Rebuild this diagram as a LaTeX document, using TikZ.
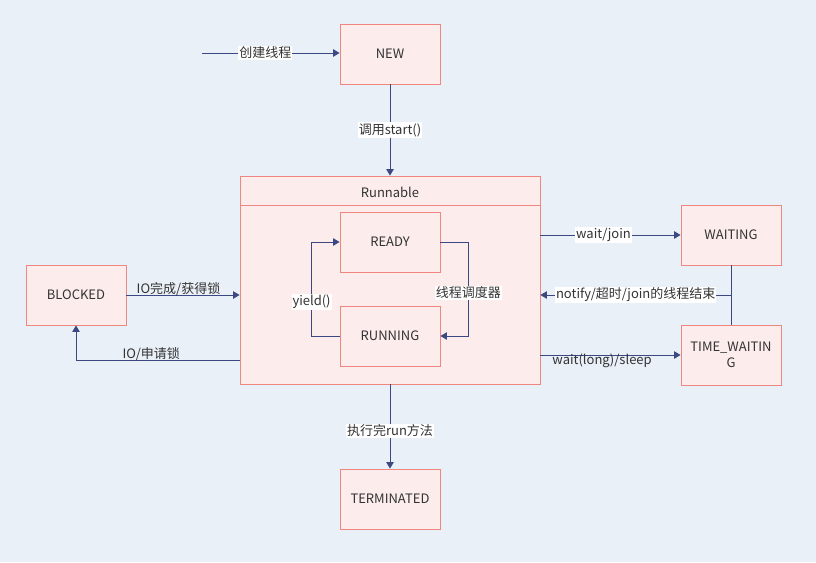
\documentclass[tikz,border=0pt]{standalone}
\usepackage{fontspec}
\setmainfont{Noto Sans CJK SC}
\usetikzlibrary{arrows.meta}
\definecolor{bgblue}{RGB}{234,240,248}
\definecolor{boxfill}{RGB}{252,236,236}
\definecolor{boxline}{RGB}{240,134,128}
\definecolor{linkblue}{RGB}{60,72,130}
\definecolor{txtgray}{RGB}{51,51,51}
\tikzset{
  state/.style={draw=boxline, fill=boxfill, line width=0.9pt, minimum width=100pt, minimum height=60pt, inner sep=0pt, text=txtgray, font=\fontsize{13}{15.5}\selectfont},
  link/.style={draw=linkblue, line width=0.9pt, -{Triangle[width=7.5pt,length=6.5pt]}},
  lab/.style={fill=white, inner sep=1pt, text=txtgray, font=\fontsize{13}{15.5}\selectfont},
  tag/.style={inner sep=1pt, text=txtgray, font=\fontsize{13}{15.5}\selectfont}
}
\begin{document}
\begin{tikzpicture}[x=1pt,y=-1pt]
\fill[bgblue] (0,0) rectangle (816,562);
\useasboundingbox (0,0) rectangle (816,562);
% states
\node (new) at (390,54)[state] {NEW};
\node (runnable) at (390,280)[state, minimum width=300pt, minimum height=208pt] {};
\node (runtitle) at (390,192)[tag] {Runnable};
\draw[boxline, line width=0.9pt] (runnable.west |- 0,205) -- (runnable.east |- 0,205);
\node (ready) at (390,242)[state] {READY};
\node (running) at (390,336)[state] {RUNNING};
\node (waiting) at (731,235)[state] {WAITING};
\node (timewait) at (731,355)[state, align=center] {TIME\_WAITIN\\G};
\node (blocked) at (76,295)[state] {BLOCKED};
\node (terminated) at (390,499)[state] {TERMINATED};
\coordinate (start) at (202,53);
\coordinate (wakeup) at (731,295);
% transitions
\draw[link] (start) -- node[lab, pos=0.46] {创建线程} (new.west |- start);
\draw[link] (new) -- node[lab] {调用start()} (runnable);
\draw[link] (running.west) -- ++(-28,0) |- node[lab, pos=0.18] {yield()} (ready.west);
\draw[link] (ready.east) -- ++(28,0) |- node[lab, pos=0.27] {线程调度器} (running.east);
\draw[link] (runnable.east |- waiting) -- node[lab, pos=0.45] {wait/join} (waiting);
\draw[linkblue, line width=0.9pt] (waiting) -- (wakeup) -- (timewait);
\draw[link] (wakeup) -- node[lab] {notify/超时/join的线程结束} (runnable.east |- wakeup);
\draw[link] (runnable.east |- timewait) -- node[tag, below=-3pt, pos=0.44] {wait(long)/sleep} (timewait);
\draw[link] (blocked) -- node[tag, above=-2pt, pos=0.46] {IO完成/获得锁} (runnable.west |- blocked);
\draw[link] (runnable.west |- 0,360) -| node[tag, above=-2pt, pos=0.27] {IO/申请锁} (blocked);
\draw[link] (runnable) -- node[lab, pos=0.55] {执行完run方法} (terminated);
\end{tikzpicture}
\end{document}
